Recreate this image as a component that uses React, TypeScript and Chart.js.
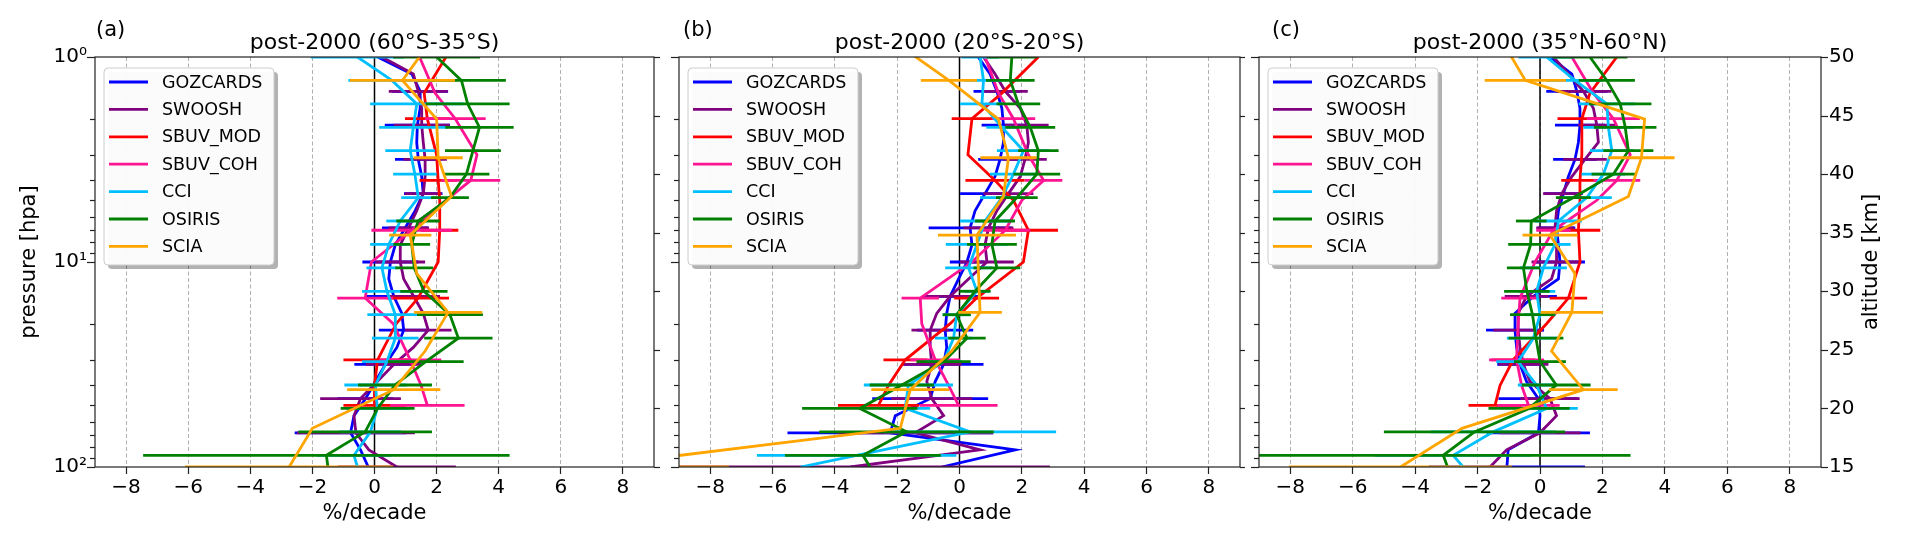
import React, { useEffect, useRef } from 'react';
import { Chart, registerables } from 'chart.js';

Chart.register(...registerables);
Chart.defaults.font.family = 'DejaVu Sans';
Chart.defaults.color = '#000';

const seriesNames = ['GOZCARDS', 'SWOOSH', 'SBUV_MOD', 'SBUV_COH', 'CCI', 'OSIRIS', 'SCIA'];
const seriesColors = ['#0000ff', '#800080', '#ff0000', '#ff1493', '#00bfff', '#008000', '#ffa500'];

// pressure levels [hPa] and altitude levels [km]
const pLevels = [1, 1.21, 1.47, 1.78, 2.15, 2.61, 3.16, 3.83, 4.64, 5.62, 6.81, 8.25, 10, 12.1, 14.7, 17.8, 21.5, 26.1, 31.6, 38.3, 46.4, 56.2, 68.1, 82.5, 100];
const sbuvLevels = [1, 1.5, 2, 3, 4, 5, 7, 10, 15, 20, 30, 40, 50];
const altLevels = [50, 48, 46, 44, 42, 40, 38, 36, 34, 32, 30, 28, 26, 24, 22, 20, 18, 16, 15];
const sciaLevels = [51.3, 48, 44.7, 41.4, 38.1, 34.8, 31.5, 28.2, 24.9, 21.6, 18.3, 15];

const seriesLevels = [pLevels, pLevels, sbuvLevels, sbuvLevels, altLevels, altLevels, sciaLevels];
const seriesAxis = ['y', 'y', 'y', 'y', 'alt', 'alt', 'alt'];

const xTicks = [-8, -6, -4, -2, 0, 2, 4, 6, 8];
const pTicks = [1, 2, 3, 4, 5, 6, 7, 8, 9, 10, 20, 30, 40, 50, 60, 70, 80, 90, 100];
const altTicks = [15, 20, 25, 30, 35, 40, 45, 50];

// (a) 60S-35S
const gozA = [0.1, 1.2, 1.47, 1.47, 1.38, 1.36, 1.41, 1.52, 1.57, 1.31, 0.99, 0.67, 0.51, 0.46, 0.62, 0.88, 0.94, 0.72, 0.35, 0.03, -0.29, -0.66, -0.77, -0.45, -0.2];
const gozAErr = [null, null, 0.9, null, 1.05, null, 0.75, null, 0.62, null, 0.75, null, 0.9, null, 0.9, null, 0.8, null, 1.0, null, 0.9, null, 1.8, null, null];
const swooshA = [0.24, 1.25, 1.41, 1.52, 1.52, 1.57, 1.63, 1.63, 1.57, 1.36, 1.1, 0.83, 0.83, 0.94, 1.26, 1.57, 1.73, 1.25, 0.62, 0.09, -0.45, -0.66, -0.6, -0.18, 0.72];
const swooshAErr = [null, null, 0.95, null, 0.9, null, 0.7, null, 0.6, null, 0.65, null, 0.8, null, 0.85, null, 0.75, null, 0.9, null, 1.3, null, 1.9, null, 1.9];
const sbuvModA = [2.3, 1.6, 1.7, 2.0, 2.05, 2.1, 2.1, 2.05, 1.4, 0.7, 0.1, 0.0, 0.0];
const sbuvModAErr = [null, null, 0.72, null, 0.6, null, 0.6, null, 1.0, null, 1.1, null, 1.0];
const sbuvCohA = [1.45, 1.95, 2.6, 3.3, 3.1, 2.3, 1.2, -0.1, -0.3, 0.6, 1.15, 1.5, 1.7];
const sbuvCohAErr = [null, null, 0.98, null, 0.95, null, 1.3, null, 0.9, null, 1.0, null, 1.2];
const cciA = [-0.55, 0.56, 1.36, 1.25, 1.15, 1.3, 1.41, 0.83, 0.46, 0.24, 0.4, 0.67, 0.67, 0.4, 0.03, 0.09, -0.13, -0.66, -0.55];
const cciAErr = [1.5, 1.4, 1.5, 1.1, 0.8, 0.7, 0.55, 0.45, 0.6, 0.5, 0.8, 0.9, 0.75, 0.8, 1.0, 1.0, 1.0, 1.2, null];
const osirisA = [2.0, 2.8, 3.0, 3.38, 3.17, 2.96, 2.43, 1.4, 1.2, 1.28, 1.59, 2.43, 2.7, 1.65, 0.66, 0.1, -0.3, -1.55, -1.5];
const osirisAErr = [1.4, 1.43, 1.35, 1.1, 0.9, 0.74, 0.61, 0.7, 0.59, 0.61, 0.76, 1.06, 1.1, 1.22, 1.19, 1.19, 2.15, 5.9, null];
const sciaA = [1.8, 0.9, 2.0, 2.05, 2.48, 1.15, 1.36, 2.37, 1.63, 0.62, -2.0, -2.75];
const sciaAErr = [null, 1.69, null, 0.79, null, 0.68, null, 1.1, null, 1.5, null, 3.35];

// (b) 20S-20N
const gozB = [0.6, 0.98, 1.2, 1.36, 1.41, 1.41, 1.3, 1.14, 0.82, 0.5, 0.34, 0.4, 0.24, -0.03, -0.3, -0.41, -0.46, -0.41, -0.51, -0.78, -0.94, -2.06, -2.22, 1.79, -0.57];
const gozBErr = [null, null, 0.75, null, 0.7, null, 0.7, null, 0.8, null, 1.33, null, 0.55, null, 0.9, null, 0.9, null, 1.28, null, 1.86, null, 3.3, null, null];
const swooshB = [0.77, 1.14, 1.47, 1.95, 2.16, 2.21, 2.1, 1.95, 1.57, 1.2, 0.93, 0.82, 0.88, 0.29, -0.3, -0.73, -0.94, -0.94, -0.89, -1.05, -0.89, -0.51, -1.42, 0.66, -3.5];
const swooshBErr = [null, null, 0.72, null, 0.7, null, 0.7, null, 0.8, null, 0.8, null, 0.86, null, 0.8, null, 0.6, null, 0.96, null, 1.3, null, 2.5, null, 6.4];
const sbuvModB = [2.53, 1.36, 0.4, 0.27, 1.14, 1.73, 2.21, 2.05, 0.55, -0.3, -1.74, -2.28, -2.6];
const sbuvModBErr = [null, null, 0.65, null, 0.95, null, 0.95, null, 0.72, null, 0.7, null, 1.3];
const sbuvCohB = [0.82, 1.25, 1.73, 2.21, 2.7, 2.0, 1.47, 0.4, -1.26, -1.21, -0.78, -0.35, -0.03];
const sbuvCohBErr = [null, null, 0.7, null, 0.6, null, 0.8, null, 0.6, null, 0.8, null, 1.25];
const cciB = [0.66, 0.77, 0.72, 1.36, 2.05, 1.73, 1.36, 0.82, 0.56, 0.29, 0.56, -0.09, -0.19, -0.51, -1.64, -1.74, 0.34, -3.3, -5.1];
const cciBErr = [0.6, 0.6, 0.7, 0.5, 0.85, 0.75, 0.7, 0.8, 1.0, 0.75, 0.4, 0.45, 0.6, 0.6, 1.43, 0.8, 2.76, 3.2, null];
const osirisB = [1.68, 1.63, 1.89, 2.27, 2.53, 2.48, 1.84, 1.14, 1.04, 1.2, 0.5, -0.09, 0.24, -0.51, -1.85, -3.2, -1.7, -3.1, -2.87];
const osirisBErr = [0.8, 0.78, 0.7, 0.8, 0.65, 0.75, 0.67, 0.64, 0.8, 0.75, 0.5, 0.45, 0.6, 0.87, 1.03, 1.85, 2.8, 2.5, null];
const sciaB = [-2.09, -0.34, 1.25, 1.57, 1.41, 0.56, 0.61, 0.66, -0.25, -1.58, -1.9, -12.0];
const sciaBErr = [null, 0.9, null, 0.9, null, 1.25, null, 0.7, null, 1.25, null, 4.6];

// (c) 35N-60N
const gozC = [0.32, 1.02, 1.18, 1.28, 1.28, 1.23, 1.12, 0.91, 0.75, 0.59, 0.53, 0.59, 0.64, 0.59, -0.21, -0.8, -0.8, -0.75, -0.64, -0.43, -0.05, 0.0, -0.05, -1.02, -1.06];
const gozCErr = [null, null, 0.98, null, 0.8, null, 0.7, null, 0.62, null, 0.6, null, 0.8, null, 0.75, null, 0.93, null, 0.73, null, 1.28, null, 1.65, null, 2.5];
const swooshC = [0.43, 0.91, 1.39, 1.71, 1.82, 1.87, 1.44, 1.02, 0.7, 0.53, 0.48, 0.53, 0.53, 0.37, -0.43, -0.7, -0.7, -0.64, -0.53, -0.32, 0.32, 0.53, 0.0, -1.07, -1.6];
const swooshCErr = [null, null, 0.9, null, 0.6, null, 0.7, null, 0.6, null, 0.6, null, 0.8, null, 0.7, null, 0.8, null, 0.8, null, 0.95, null, 1.3, null, null];
const sbuvModC = [2.46, 1.6, 1.34, 1.34, 1.28, 1.28, 1.23, 1.28, 0.91, 0.21, -0.86, -1.28, -1.44];
const sbuvModCErr = [null, null, 0.78, null, 0.6, null, 0.7, null, 0.6, null, 0.7, null, 0.85];
const sbuvCohC = [1.02, 1.71, 2.35, 2.89, 2.46, 1.82, 0.43, -0.16, -0.64, -0.7, -0.75, -0.59, -0.37];
const sbuvCohCErr = [null, null, 0.85, null, 0.75, null, 0.55, null, 0.6, null, 0.88, null, 1.0];
const cciC = [0.21, 1.12, 2.14, 2.19, 2.3, 2.03, 1.5, 0.59, 0.48, 0.11, -0.11, 0.0, -0.21, -0.7, -0.11, 0.21, -1.5, -2.78, -2.46];
const cciCErr = [0.9, 0.9, 0.9, 0.8, 0.7, 0.7, 0.8, 0.75, 0.5, 0.75, 0.6, 0.5, 0.85, 0.7, 0.6, 1.0, 2.0, 2.5, null];
const osirisC = [1.6, 2.14, 2.57, 2.73, 2.83, 2.35, 1.07, -0.28, -0.3, -0.53, -0.42, -0.24, -0.13, 0.0, 0.52, -0.35, -2.1, -3.1, -2.96];
const osirisCErr = [1.2, 0.9, 1.0, 1.0, 0.8, 0.7, 0.56, 0.49, 0.72, 0.53, 0.73, 0.72, 0.88, 0.83, 1.1, 1.3, 2.9, 6.0, null];
const sciaC = [-1.2, -0.47, 3.35, 3.25, 2.83, 0.32, 1.12, 1.02, 0.37, 1.39, -2.5, -4.47];
const sciaCErr = [null, 1.3, null, 1.06, null, 0.88, null, 1.0, null, 1.1, null, 3.57];

type PanelSpec = {
  letter: string;
  title: string;
  values: number[][];
  errors: (number | null)[][];
  left: number;
  width: number;
  yWidth: number;
  altWidth: number;
  pLabels: boolean;
  altLabels: boolean;
  letterDx: number;
};

const panels: PanelSpec[] = [
  {
    letter: 'a', title: 'post-2000 (60°S-35°S)',
    values: [gozA, swooshA, sbuvModA, sbuvCohA, cciA, osirisA, sciaA],
    errors: [gozAErr, swooshAErr, sbuvModAErr, sbuvCohAErr, cciAErr, osirisAErr, sciaAErr],
    left: 0, width: 660, yWidth: 95, altWidth: 6, pLabels: true, altLabels: false, letterDx: 1,
  },
  {
    letter: 'b', title: 'post-2000 (20°S-20°S)',
    values: [gozB, swooshB, sbuvModB, sbuvCohB, cciB, osirisB, sciaB],
    errors: [gozBErr, swooshBErr, sbuvModBErr, sbuvCohBErr, cciBErr, osirisBErr, sciaBErr],
    left: 660, width: 585, yWidth: 19, altWidth: 5, pLabels: false, altLabels: false, letterDx: 4,
  },
  {
    letter: 'c', title: 'post-2000 (35°N-60°N)',
    values: [gozC, swooshC, sbuvModC, sbuvCohC, cciC, osirisC, sciaC],
    errors: [gozCErr, swooshCErr, sbuvModCErr, sbuvCohCErr, cciCErr, osirisCErr, sciaCErr],
    left: 1245, width: 662, yWidth: 14, altWidth: 86, pLabels: false, altLabels: true, letterDx: 13,
  },
];

const pLabelText: Record<number, string> = { 1: '10⁰', 10: '10¹', 100: '10²' };

function decorPlugin(spec: PanelSpec) {
  return {
    id: 'decor',
    beforeDatasetsDraw(chart: any) {
      const { ctx, chartArea } = chart;
      const x0 = chart.scales.x.getPixelForValue(0);
      ctx.save();
      ctx.strokeStyle = '#000';
      ctx.lineWidth = 1.5;
      ctx.beginPath();
      ctx.moveTo(x0, chartArea.top);
      ctx.lineTo(x0, chartArea.bottom);
      ctx.stroke();
      ctx.restore();
    },
    afterDatasetDraw(chart: any, args: any) {
      const ds = chart.data.datasets[args.index];
      const errs = ds.errors as (number | null)[];
      if (!errs) return;
      const { ctx, chartArea } = chart;
      const xs = chart.scales.x;
      const ys = chart.scales[ds.yAxisID];
      ctx.save();
      ctx.beginPath();
      ctx.rect(chartArea.left, chartArea.top, chartArea.right - chartArea.left, chartArea.bottom - chartArea.top);
      ctx.clip();
      ctx.strokeStyle = ds.borderColor;
      ctx.lineWidth = 2.8;
      ds.data.forEach((pt: { x: number; y: number }, j: number) => {
        const e = errs[j];
        if (e == null) return;
        const py = ys.getPixelForValue(pt.y);
        ctx.beginPath();
        ctx.moveTo(xs.getPixelForValue(pt.x - e), py);
        ctx.lineTo(xs.getPixelForValue(pt.x + e), py);
        ctx.stroke();
      });
      ctx.restore();
    },
    afterDraw(chart: any) {
      const { ctx, chartArea } = chart;
      const { left, right, top, bottom } = chartArea;
      ctx.save();
      // y tick marks
      ctx.strokeStyle = '#222';
      ctx.lineWidth = 1.2;
      const tickMarks = (scale: any, side: string, majorLen: number, minorLen: number) => {
        scale.ticks.forEach((t: any) => {
          const py = Math.round(scale.getPixelForValue(t.value)) + 0.5;
          const len = t.major ? majorLen : minorLen;
          const x0 = side === 'left' ? left : right;
          const dir = side === 'left' ? -1 : 1;
          ctx.beginPath();
          ctx.moveTo(x0, py);
          ctx.lineTo(x0 + dir * len, py);
          ctx.stroke();
        });
      };
      tickMarks(chart.scales.y, 'left', 8, 5);
      tickMarks(chart.scales.alt, 'right', 7, 7);
      // spines
      ctx.strokeRect(left, top, right - left, bottom - top);
      // panel letter and title
      ctx.fillStyle = '#000';
      ctx.font = '21px "DejaVu Sans"';
      ctx.textAlign = 'left';
      ctx.textBaseline = 'middle';
      ctx.fillText(`(${spec.letter})`, left + spec.letterDx, 31);
      ctx.font = '22px "DejaVu Sans"';
      ctx.textAlign = 'center';
      ctx.textBaseline = 'alphabetic';
      ctx.fillText(spec.title, (left + right) / 2, 49);
      // legend
      const bx = left + 9;
      const by = top + 11;
      const bw = 170;
      const bh = 197;
      ctx.fillStyle = 'rgba(0,0,0,0.3)';
      ctx.beginPath();
      ctx.roundRect(bx + 4, by + 4, bw, bh, 4);
      ctx.fill();
      ctx.fillStyle = 'rgba(255,255,255,0.95)';
      ctx.strokeStyle = '#cccccc';
      ctx.lineWidth = 1;
      ctx.beginPath();
      ctx.roundRect(bx, by, bw, bh, 4);
      ctx.fill();
      ctx.stroke();
      ctx.font = '17.5px "DejaVu Sans"';
      ctx.textAlign = 'left';
      ctx.textBaseline = 'middle';
      seriesNames.forEach((name, i) => {
        const ry = by + 14 + i * 27.4;
        ctx.strokeStyle = seriesColors[i];
        ctx.lineWidth = 2.8;
        ctx.beginPath();
        ctx.moveTo(bx + 5, ry);
        ctx.lineTo(bx + 44, ry);
        ctx.stroke();
        ctx.fillStyle = '#000';
        ctx.fillText(name, bx + 58, ry + 1);
      });
      // right axis title
      if (spec.altLabels) {
        ctx.translate(chart.width - 35, (top + bottom) / 2);
        ctx.rotate(-Math.PI / 2);
        ctx.font = '21px "DejaVu Sans"';
        ctx.textAlign = 'center';
        ctx.textBaseline = 'middle';
        ctx.fillStyle = '#000';
        ctx.fillText('altitude [km]', 0, 0);
      }
      ctx.restore();
    },
  };
}

function Panel({ spec }: { spec: PanelSpec }) {
  const canvasRef = useRef<HTMLCanvasElement>(null);

  useEffect(() => {
    const canvas = canvasRef.current;
    if (!canvas) return;
    const context = canvas.getContext('2d');
    if (!context) return;
    const datasets = seriesNames.map((name, i) => ({
      label: name,
      data: spec.values[i].map((v, j) => ({ x: v, y: seriesLevels[i][j] })),
      errors: spec.errors[i],
      yAxisID: seriesAxis[i],
      xAxisID: 'x',
      borderColor: seriesColors[i],
      backgroundColor: seriesColors[i],
      borderWidth: 2.8,
      pointRadius: 0,
      tension: 0,
      order: -i,
    }));
    const chart = new Chart(context, {
      type: 'line',
      data: { datasets } as any,
      options: {
        animation: false,
        responsive: false,
        indexAxis: 'y',
        events: [],
        layout: { padding: { top: 57, left: 0, right: 0, bottom: 0 } },
        plugins: { legend: { display: false }, tooltip: { enabled: false } },
        scales: {
          x: {
            type: 'linear',
            position: 'bottom',
            min: -9,
            max: 9,
            afterBuildTicks: (scale: any) => {
              scale.ticks = xTicks.map((v) => ({ value: v }));
            },
            afterFit: (scale: any) => {
              scale.height = 81;
            },
            grid: {
              color: '#b0b0b0',
              lineWidth: 1,
              drawTicks: true,
              tickLength: 7,
              tickColor: '#222',
              tickWidth: 1.2,
            },
            border: { display: false, dash: [4, 2.5] },
            ticks: {
              font: { size: 20 },
              color: '#000',
              padding: 2,
              maxRotation: 0,
              callback: (v: any) => (Number(v) < 0 ? '−' + Math.abs(Number(v)) : String(v)),
            },
            title: {
              display: true,
              text: '%/decade',
              font: { size: 21 },
              color: '#000',
              padding: { top: 0, bottom: 22 },
            },
          },
          y: {
            type: 'logarithmic',
            position: 'left',
            min: 1,
            max: 100,
            reverse: true,
            afterBuildTicks: (scale: any) => {
              scale.ticks = pTicks.map((v) => ({ value: v, major: v === 1 || v === 10 || v === 100 }));
            },
            afterFit: (scale: any) => {
              scale.width = spec.yWidth;
            },
            grid: { display: false, drawTicks: false },
            border: { display: false },
            ticks: {
              display: spec.pLabels,
              font: { size: 20 },
              color: '#000',
              padding: 8,
              autoSkip: false,
              callback: (v: any) => pLabelText[Number(v)] ?? '',
            },
            title: {
              display: spec.pLabels,
              text: 'pressure [hpa]',
              font: { size: 21 },
              color: '#000',
              padding: { top: 17, bottom: 0 },
            },
          },
          alt: {
            type: 'linear',
            position: 'right',
            min: 15,
            max: 50,
            afterBuildTicks: (scale: any) => {
              scale.ticks = altTicks.map((v) => ({ value: v, major: true }));
            },
            afterFit: (scale: any) => {
              scale.width = spec.altWidth;
            },
            grid: { display: false, drawTicks: false },
            border: { display: false },
            ticks: {
              display: spec.altLabels,
              font: { size: 20 },
              color: '#000',
              padding: 8,
              autoSkip: false,
            },
          },
        },
      } as any,
      plugins: [decorPlugin(spec)],
    });
    return () => {
      chart.destroy();
    };
  }, [spec]);

  return (
    <canvas
      ref={canvasRef}
      width={spec.width}
      height={548}
      style={{ position: 'absolute', left: spec.left, top: 0, width: spec.width, height: 548 }}
    />
  );
}

export default function App() {
  return (
    <div style={{ position: 'absolute', left: 0, top: 0, width: 1907, height: 548, background: '#fff' }}>
      {panels.map((p) => (
        <Panel key={p.letter} spec={p} />
      ))}
    </div>
  );
}
